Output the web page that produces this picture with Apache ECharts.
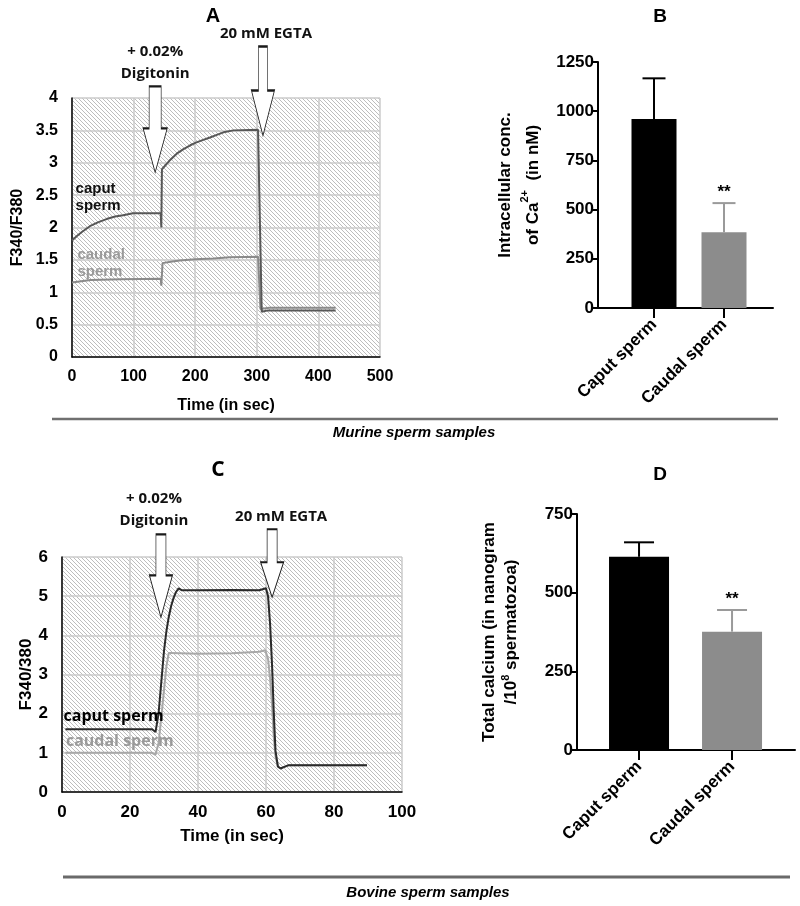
<!DOCTYPE html>
<html><head><meta charset="utf-8">
<script src="https://cdn.jsdelivr.net/npm/echarts@6/dist/echarts.min.js"></script>
<style>html,body{margin:0;padding:0;background:#fff}#c{width:800px;height:906px}</style>
</head><body><div id="c"></div>
<script>
// ---------- Panel A (murine, ratio trace) ----------
const timeTicksA = [0, 100, 200, 300, 400, 500];
const caputA = [[0,1.80],[8,1.87],[16,1.93],[29,2.02],[42,2.08],[56,2.13],[70,2.17],[83,2.19],[99,2.22],[144,2.22],[145,2.0],[146,2.9],[158,3.03],[170,3.14],[181,3.21],[192,3.27],[201,3.31],[212,3.35],[224,3.39],[235,3.43],[246,3.47],[262,3.50],[302,3.51],[308,0.70],[318,0.72],[428,0.72]];
const caudalA = [[0,1.15],[30,1.19],[80,1.20],[144,1.21],[145,1.10],[147,1.45],[160,1.47],[175,1.49],[200,1.51],[230,1.52],[256,1.54],[302,1.55],[306,0.74],[320,0.76],[428,0.76]];
// ---------- Panel B (murine, intracellular Ca) ----------
const catsB = ['Caput sperm', 'Caudal sperm'];
const meanB = [960, 385];
const sdB = [207, 148];
const starsB = ['', '**'];
// ---------- Panel C (bovine, ratio trace) ----------
const caputC = [[1,1.6],[10,1.6],[20,1.6],[26.5,1.6],[27.5,1.53],[28.4,2.0],[29.2,2.8],[30,3.6],[30.7,4.1],[31.4,4.47],[32.1,4.75],[32.8,4.95],[33.5,5.1],[34.3,5.2],[35.3,5.15],[40,5.15],[50,5.16],[58,5.15],[60,5.2],[60.6,5.0],[61.2,4.3],[61.8,3.2],[62.3,2.0],[62.8,1.05],[63.5,0.65],[64.3,0.6],[65,0.63],[66.5,0.68],[89.7,0.68]];
const caudalC = [[1,1.0],[26.5,1.0],[27.5,0.95],[28.4,1.25],[29.2,1.9],[30,2.6],[30.7,3.2],[31.4,3.55],[32,3.55],[40,3.53],[50,3.54],[58,3.58],[59.8,3.62],[60.6,3.4],[61.2,2.9],[61.8,2.2],[62.3,1.4],[62.8,0.9],[63.5,0.65],[64.3,0.6],[66.5,0.68],[89.7,0.68]];
// ---------- Panel D (bovine, total Ca) ----------
const catsD = ['Caput sperm', 'Caudal sperm'];
const meanD = [614, 376];
const sdD = [46, 69];
const starsD = ['', '**'];

const barColors = ['#000000', '#8c8c8c'];
const errColors = ['#000000', '#9a9a9a'];

// annotation anchors (data coordinates of arrow tips / label anchors)
const arrowsA = [{t:135, v:2.85, text:'+ 0.02%\nDigitonin', w:24, h:86, sw:12, hh:44, dx:0},
                 {t:310, v:3.42, text:'20 mM EGTA', w:23, h:89, sw:9, hh:45, dx:3}];
const arrowsC = [{t:29.1, v:4.46, text:'+ 0.02%\nDigitonin', w:23, h:83, sw:10, hh:42, dx:-7},
                 {t:61.8, v:4.97, text:'20 mM EGTA', w:23, h:68, sw:10, hh:35, dx:9}];

const FONT = 'Liberation Sans, Arial, sans-serif';
const FONT2 = 'Open Sans, Noto Sans, sans-serif';

// hatched plot background
const hatch = document.createElement('canvas');
hatch.width = 4; hatch.height = 4;
const hg = hatch.getContext('2d');
hg.fillStyle = '#ffffff'; hg.fillRect(0,0,4,4);
hg.strokeStyle = '#bdbdbd'; hg.lineWidth = 1;
hg.beginPath();
hg.moveTo(-1,-1); hg.lineTo(5,5);
hg.moveTo(3,-1); hg.lineTo(5,1);
hg.moveTo(-1,3); hg.lineTo(1,5);
hg.stroke();
const pat = {image: hatch, repeat: 'repeat'};

function arrowPath(w, h, sw, hh) {
  const a = (w - sw) / 2, b = (w + sw) / 2, s = h - hh;
  return `path://M${a},0 L${b},0 L${b},${s} L${w},${s} L${w/2},${h} L0,${s} L${a},${s} Z`;
}
function arrowPoints(list) {
  return list.map(o => ({
    coord: [o.t, o.v],
    symbol: arrowPath(o.w, o.h, o.sw, o.hh),
    symbolSize: [o.w, o.h],
    symbolKeepAspect: false,
    symbolOffset: [0, '-50%'],
    itemStyle: {color: '#ffffff', borderColor: '#1a1a1a', borderWidth: 1.2},
    label: {show: true, position: 'top', distance: 1, offset: [o.dx, 0], formatter: o.text,
            fontFamily: FONT2, fontWeight: 'bold', fontSize: 15, lineHeight: 22, color: '#111'}
  }));
}
function textPoint(t, v, text, color, font, size, lh) {
  return {coord: [t, v], symbol: 'rect', symbolSize: 1, itemStyle: {color: 'rgba(0,0,0,0)'},
          label: {show: true, position: 'right', distance: 0, formatter: text, align: 'left',
                  fontFamily: font, fontWeight: 'bold', fontSize: size, lineHeight: lh, color: color}};
}

const tickLabel = (size) => ({fontFamily: FONT, fontWeight: 'bold', fontSize: size, color: '#000'});

function traceAxes(gi, xmax, xint, ymax, yint, xname, yname, xGap, yGap, fs) {
  const nameStyle = {fontFamily: FONT, fontWeight: 'bold', fontSize: fs, color: '#000'};
  return {
    x: {gridIndex: gi, type: 'value', min: 0, max: xmax, interval: xint,
        axisLine: {show: true, onZero: false, lineStyle: {color: '#000', width: 1.5}},
        axisTick: {show: false},
        splitLine: {show: true, lineStyle: {color: '#cbcbcb', width: 1.5}},
        axisLabel: Object.assign({margin: 12, formatter: v => String(v)}, tickLabel(fs)),
        name: xname, nameLocation: 'middle', nameGap: xGap, nameTextStyle: nameStyle},
    y: {gridIndex: gi, type: 'value', min: 0, max: ymax, interval: yint,
        axisLine: {show: true, onZero: false, lineStyle: {color: '#000', width: 1.5}},
        axisTick: {show: false},
        splitLine: {show: true, lineStyle: {color: '#cbcbcb', width: 1.5}},
        axisLabel: Object.assign({margin: 14, formatter: v => String(v)}, tickLabel(fs)),
        name: yname, nameLocation: 'middle', nameRotate: 90, nameGap: yGap, nameTextStyle: nameStyle}
  };
}

function barAxes(gi, cats, xmin, xmax, ymax, yint, yname, yGap, lh) {
  return {
    x: {gridIndex: gi, type: 'value', min: xmin, max: xmax,
        axisLine: {show: true, onZero: false, lineStyle: {color: '#000', width: 2}},
        axisTick: {show: true, customValues: [0, 1], length: 10, lineStyle: {color: '#000', width: 2}},
        splitLine: {show: false},
        axisLabel: Object.assign({customValues: [0, 1], rotate: 45, margin: 14,
                   formatter: v => cats[Math.round(v)] || ''}, tickLabel(17))},
    y: {gridIndex: gi, type: 'value', min: 0, max: ymax, interval: yint,
        axisLine: {show: true, onZero: false, lineStyle: {color: '#000', width: 2}},
        axisTick: {show: true, length: 7, lineStyle: {color: '#000', width: 2}},
        splitLine: {show: false},
        axisLabel: Object.assign({margin: 4, formatter: v => String(v)}, tickLabel(17)),
        name: yname, nameLocation: 'middle', nameRotate: 90, nameGap: yGap,
        nameTextStyle: {fontFamily: FONT, fontWeight: 'bold', fontSize: 17, color: '#000', lineHeight: lh,
          rich: {sup: {fontFamily: FONT, fontWeight: 'bold', fontSize: 11, color: '#000', verticalAlign: 'top', padding: [0,0,9,0]}}}}
  };
}

const aA = traceAxes(0, 500, 100, 4, 0.5, 'Time (in sec)', 'F340/F380', 41, 46, 16);
const aC = traceAxes(2, 100, 20, 6, 1, 'Time (in sec)', 'F340/380', 36, 24, 17);
const aB = barAxes(1, catsB, -0.8, 1.7, 1250, 250, 'Intracellular conc.\nof Ca{sup|2+}  (in nM)', 51, 28);
const aD = barAxes(3, catsD, -0.667, 1.677, 750, 250, 'Total calcium (in nanogram\n/10{sup|8} spermatozoa)', 55, 22);

function barSeries(gi, means, width) {
  return {type: 'bar', xAxisIndex: gi, yAxisIndex: gi, barWidth: width,
          data: means.map((m, i) => ({value: [i, m], itemStyle: {color: barColors[i]}}))};
}
function errSeries(gi, means, sds, stars, capW) {
  return {type: 'custom', xAxisIndex: gi, yAxisIndex: gi, z: 5,
    data: means.map((m, i) => [i, m, sds[i], i]),
    renderItem: (params, api) => {
      const x = api.value(0), m = api.value(1), sd = api.value(2), idx = api.value(3);
      const base = api.coord([x, m]), top = api.coord([x, m + sd]);
      const col = errColors[idx];
      const ls = {stroke: col, lineWidth: 2};
      const kids = [
        {type: 'line', shape: {x1: base[0], y1: base[1], x2: top[0], y2: top[1]}, style: ls},
        {type: 'line', shape: {x1: top[0] - capW / 2, y1: top[1], x2: top[0] + capW / 2, y2: top[1]}, style: ls}
      ];
      if (stars[idx]) kids.push({type: 'text', style: {text: stars[idx], x: top[0], y: top[1] - 2,
        align: 'center', verticalAlign: 'bottom', font: 'bold 17px ' + FONT, fill: '#000'}});
      return {type: 'group', children: kids};
    }};
}

const chart = echarts.init(document.getElementById('c'), null, {renderer: 'canvas'});
chart.setOption({
  animation: false,
  backgroundColor: '#ffffff',
  grid: [
    {left: 72, top: 98, width: 308, height: 259, show: true, backgroundColor: pat, borderWidth: 0},
    {left: 598, top: 62, width: 175, height: 246},
    {left: 62, top: 557, width: 340, height: 235, show: true, backgroundColor: pat, borderWidth: 0},
    {left: 577, top: 514, width: 218, height: 236}
  ],
  xAxis: [aA.x, aB.x, aC.x, aD.x],
  yAxis: [aA.y, aB.y, aC.y, aD.y],
  series: [
    {type: 'line', xAxisIndex: 0, yAxisIndex: 0, data: caudalA, showSymbol: false, symbol: 'none',
     lineStyle: {color: '#8a8a8a', width: 2}, z: 2,
     markPoint: {data: [textPoint(8, 1.45, 'caudal\nsperm', '#9a9a9a', FONT, 15, 17)]}},
    {type: 'line', xAxisIndex: 0, yAxisIndex: 0, data: caputA, showSymbol: false, symbol: 'none',
     lineStyle: {color: '#575757', width: 2}, z: 3,
     markPoint: {data: [textPoint(5, 2.46, 'caput\nsperm', '#111', FONT, 15, 17)].concat(arrowPoints(arrowsA))}},
    barSeries(1, meanB, 45),
    errSeries(1, meanB, sdB, starsB, 23),
    {type: 'line', xAxisIndex: 2, yAxisIndex: 2, data: caudalC, showSymbol: false, symbol: 'none',
     lineStyle: {color: '#a8a8a8', width: 2}, z: 2,
     markPoint: {data: [textPoint(1, 1.28, 'caudal sperm', '#9a9a9a', FONT2, 16, 18)]}},
    {type: 'line', xAxisIndex: 2, yAxisIndex: 2, data: caputC, showSymbol: false, symbol: 'none',
     lineStyle: {color: '#2a2a2a', width: 2}, z: 3,
     markPoint: {data: [textPoint(0.3, 1.94, 'caput sperm', '#000', FONT2, 16, 18)].concat(arrowPoints(arrowsC))}},
    barSeries(3, meanD, 60),
    errSeries(3, meanD, sdD, starsD, 30)
  ],
  graphic: [
    {type: 'text', x: 213, y: 16, style: {text: 'A', font: 'bold 20px ' + FONT, fill: '#000', align: 'center', verticalAlign: 'middle'}},
    {type: 'text', x: 660, y: 17, style: {text: 'B', font: 'bold 19px ' + FONT, fill: '#000', align: 'center', verticalAlign: 'middle'}},
    {type: 'text', x: 218, y: 470, style: {text: 'C', font: 'bold 21px ' + FONT2, fill: '#000', align: 'center', verticalAlign: 'middle'}},
    {type: 'text', x: 660, y: 475, style: {text: 'D', font: 'bold 19px ' + FONT, fill: '#000', align: 'center', verticalAlign: 'middle'}},
    {type: 'line', shape: {x1: 52, y1: 419, x2: 778, y2: 419}, style: {stroke: '#707070', lineWidth: 2.5}},
    {type: 'text', x: 414, y: 433, style: {text: 'Murine sperm samples', font: 'italic bold 15px ' + FONT, fill: '#000', align: 'center', verticalAlign: 'middle'}},
    {type: 'line', shape: {x1: 63, y1: 877, x2: 790, y2: 877}, style: {stroke: '#6a6a6a', lineWidth: 3}},
    {type: 'text', x: 428, y: 893, style: {text: 'Bovine sperm samples', font: 'italic bold 15px ' + FONT, fill: '#000', align: 'center', verticalAlign: 'middle'}}
  ]
});
</script>
</body></html>
